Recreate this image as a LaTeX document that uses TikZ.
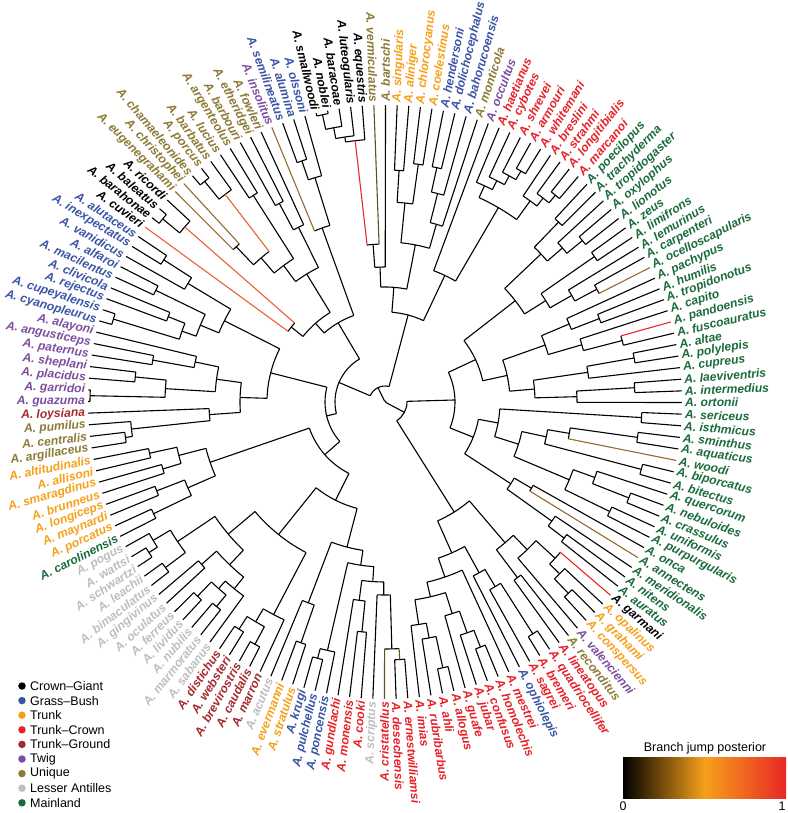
\documentclass[tikz,border=0pt]{standalone}
\usepackage{fontspec}
\setmainfont{Liberation Sans}
\usetikzlibrary{positioning}
\definecolor{crowngiant}{RGB}{0,0,0}
\definecolor{grassbush}{RGB}{59,85,165}
\definecolor{trunk}{RGB}{246,160,26}
\definecolor{trunkcrown}{RGB}{230,34,41}
\definecolor{trunkground}{RGB}{163,42,46}
\definecolor{twig}{RGB}{125,78,159}
\definecolor{unique}{RGB}{140,122,55}
\definecolor{lesserant}{RGB}{190,190,190}
\definecolor{mainland}{RGB}{27,107,58}
\definecolor{jumphi}{RGB}{232,40,38}
\definecolor{jumpmid}{RGB}{236,95,50}
\definecolor{jumplo}{RGB}{150,105,50}
\definecolor{jumpdim}{RGB}{100,80,40}
\tikzset{
  branch/.style={line width=1.1pt},
  taxon/.style={font=\fontsize{12.1}{13}\selectfont\bfseries\itshape, inner sep=0pt},
  legdot/.style={circle, inner sep=0pt, minimum size=7.5pt},
  legtext/.style={font=\fontsize{12.5}{14}\selectfont, anchor=west, inner sep=0pt}
}
\def\tiprad{297}
\def\labrad{300}
% tip: [stem colour] index, name, label colour
\newcommand{\tip}[4][black]{%
  \pgfmathsetmacro\tipang{(#2-1)*2.25-0.1}%
  \expandafter\xdef\csname ang@#3\endcsname{\tipang}%
  \expandafter\xdef\csname col@#3\endcsname{#1}%
  \coordinate (#3) at (\tipang:\tiprad);
  \pgfmathtruncatemacro\isleft{(\tipang>90 && \tipang<270) ? 1 : 0}%
  \ifnum\isleft=1
    \node[taxon, text=#4, rotate=\tipang-180, anchor=east] (lab-#3) at (\tipang:\labrad) {A. #3};
  \else
    \node[taxon, text=#4, rotate=\tipang, anchor=west] (lab-#3) at (\tipang:\labrad) {A. #3};
  \fi
}
% clade: [stem colour] name, child, child, radius
\newcommand{\clade}[5][black]{%
  \pgfmathsetmacro\angA{\csname ang@#3\endcsname}%
  \pgfmathsetmacro\angB{\csname ang@#4\endcsname}%
  \pgfmathsetmacro\angM{(\angA+\angB)/2}%
  \expandafter\xdef\csname ang@#2\endcsname{\angM}%
  \expandafter\xdef\csname col@#2\endcsname{#1}%
  \edef\colA{\csname col@#3\endcsname}\edef\colB{\csname col@#4\endcsname}%
  \coordinate (#2) at (\angM:#5);
  \draw[branch] (\angA:#5) arc[start angle=\angA, end angle=\angB, radius=#5];
  \draw[branch, draw=\colA] (\angA:#5) -- (#3);
  \draw[branch, draw=\colB] (\angB:#5) -- (#4);
}
\begin{document}
\begin{tikzpicture}[x=1pt, y=1pt]
  \useasboundingbox (-385,-411) rectangle (402,402);
  % tips, anticlockwise from A. ortonii
  \tip{1}{ortonii}{mainland}
  \tip{2}{intermedius}{mainland}
  \tip{3}{laeviventris}{mainland}
  \tip{4}{cupreus}{mainland}
  \tip{5}{polylepis}{mainland}
  \tip{6}{altae}{mainland}
  \tip{7}{fuscoauratus}{mainland}
  \tip[jumphi]{8}{pandoensis}{mainland}
  \tip{9}{capito}{mainland}
  \tip{10}{tropidonotus}{mainland}
  \tip{11}{humilis}{mainland}
  \tip{12}{pachypus}{mainland}
  \tip[jumplo]{13}{ocelloscapularis}{mainland}
  \tip{14}{carpenteri}{mainland}
  \tip{15}{lemurinus}{mainland}
  \tip{16}{limifrons}{mainland}
  \tip{17}{zeus}{mainland}
  \tip{18}{lionotus}{mainland}
  \tip{19}{oxylophus}{mainland}
  \tip{20}{tropidogaster}{mainland}
  \tip{21}{trachyderma}{mainland}
  \tip{22}{poecilopus}{mainland}
  \tip{23}{marcanoi}{trunkcrown}
  \tip{24}{longitibialis}{trunkcrown}
  \tip{25}{strahmi}{trunkcrown}
  \tip{26}{breslini}{trunkcrown}
  \tip{27}{whitemani}{trunkcrown}
  \tip{28}{armouri}{trunkcrown}
  \tip{29}{shrevei}{trunkcrown}
  \tip{30}{cybotes}{trunkcrown}
  \tip{31}{haetianus}{trunkcrown}
  \tip{32}{occultus}{twig}
  \tip{33}{monticola}{unique}
  \tip{34}{bahorucoensis}{grassbush}
  \tip{35}{dolichocephalus}{grassbush}
  \tip{36}{hendersoni}{grassbush}
  \tip{37}{coelestinus}{trunk}
  \tip{38}{chlorocyanus}{trunk}
  \tip{39}{aliniger}{trunk}
  \tip{40}{singularis}{trunk}
  \tip{41}{bartschi}{unique}
  \tip[jumpdim]{42}{vermiculatus}{unique}
  \tip{43}{equestris}{crowngiant}
  \tip{44}{luteogularis}{crowngiant}
  \tip{45}{baracoae}{crowngiant}
  \tip{46}{noblei}{crowngiant}
  \tip{47}{smallwoodi}{crowngiant}
  \tip{48}{olssoni}{grassbush}
  \tip{49}{alumina}{grassbush}
  \tip{50}{semilineatus}{grassbush}
  \tip[jumplo]{51}{insolitus}{twig}
  \tip{52}{fowleri}{unique}
  \tip{53}{etheridgei}{unique}
  \tip{54}{barbouri}{unique}
  \tip{55}{argenteolus}{unique}
  \tip{56}{lucius}{unique}
  \tip{57}{barbatus}{unique}
  \tip{58}{porcus}{unique}
  \tip{59}{chamaeleonides}{unique}
  \tip[jumplo]{60}{christophei}{unique}
  \tip[jumplo]{61}{eugenegrahami}{unique}
  \tip{62}{ricordi}{crowngiant}
  \tip{63}{baleatus}{crowngiant}
  \tip{64}{barahonae}{crowngiant}
  \tip[jumpmid]{65}{cuvieri}{crowngiant}
  \tip{66}{alutaceus}{grassbush}
  \tip{67}{inexpectatus}{grassbush}
  \tip{68}{vanidicus}{grassbush}
  \tip{69}{alfaroi}{grassbush}
  \tip{70}{macilentus}{grassbush}
  \tip{71}{clivicola}{grassbush}
  \tip{72}{rejectus}{grassbush}
  \tip{73}{cupeyalensis}{grassbush}
  \tip{74}{cyanopleurus}{grassbush}
  \tip{75}{alayoni}{twig}
  \tip{76}{angusticeps}{twig}
  \tip{77}{paternus}{twig}
  \tip{78}{sheplani}{twig}
  \tip{79}{placidus}{twig}
  \tip{80}{garridoi}{twig}
  \tip{81}{guazuma}{twig}
  \tip{82}{loysiana}{trunkground}
  \tip{83}{pumilus}{unique}
  \tip{84}{centralis}{unique}
  \tip{85}{argillaceus}{unique}
  \tip{86}{altitudinalis}{trunk}
  \tip{87}{allisoni}{trunk}
  \tip{88}{smaragdinus}{trunk}
  \tip{89}{brunneus}{trunk}
  \tip{90}{longiceps}{trunk}
  \tip{91}{maynardi}{trunk}
  \tip{92}{porcatus}{trunk}
  \tip{93}{carolinensis}{mainland}
  \tip{94}{pogus}{lesserant}
  \tip{95}{wattsi}{lesserant}
  \tip{96}{schwartzi}{lesserant}
  \tip{97}{leachii}{lesserant}
  \tip{98}{bimaculatus}{lesserant}
  \tip{99}{gingivinus}{lesserant}
  \tip{100}{oculatus}{lesserant}
  \tip{101}{ferreus}{lesserant}
  \tip{102}{lividus}{lesserant}
  \tip{103}{nubilis}{lesserant}
  \tip{104}{marmoratus}{lesserant}
  \tip{105}{sabanus}{lesserant}
  \tip{106}{distichus}{trunkground}
  \tip{107}{websteri}{trunkground}
  \tip{108}{brevirostris}{trunkground}
  \tip{109}{caudalis}{trunkground}
  \tip{110}{marron}{trunkground}
  \tip{111}{acutus}{lesserant}
  \tip{112}{evermanni}{trunk}
  \tip{113}{stratulus}{trunk}
  \tip{114}{krugi}{grassbush}
  \tip{115}{pulchellus}{grassbush}
  \tip{116}{poncensis}{grassbush}
  \tip{117}{gundlachi}{trunkcrown}
  \tip{118}{monensis}{trunkcrown}
  \tip{119}{cooki}{trunkcrown}
  \tip{120}{scriptus}{lesserant}
  \tip[jumpdim]{121}{cristatellus}{trunkcrown}
  \tip{122}{desechensis}{trunkcrown}
  \tip{123}{ernestwilliamsi}{trunkcrown}
  % Norops side, counted back from A. sericeus
  \tip{-36}{imias}{trunkcrown}
  \tip{-35}{rubribarbus}{trunkcrown}
  \tip{-34}{ahli}{trunkcrown}
  \tip{-33}{allogus}{trunkcrown}
  \tip{-32}{guafe}{trunkcrown}
  \tip{-31}{jubar}{trunkcrown}
  \tip{-30}{confusus}{trunkcrown}
  \tip{-29}{homolechis}{trunkcrown}
  \tip{-28}{mestrei}{trunkcrown}
  \tip{-27}{ophiolepis}{grassbush}
  \tip{-26}{sagrei}{trunkcrown}
  \tip{-25}{bremeri}{trunkcrown}
  \tip{-24}{quadriocellifer}{trunkcrown}
  \tip{-23}{lineatopus}{trunkcrown}
  \tip{-22}{reconditus}{unique}
  \tip{-21}{valencienni}{twig}
  \tip{-20}{conspersus}{trunk}
  \tip{-19}{grahami}{trunk}
  \tip{-18}{opalinus}{trunk}
  \tip[jumphi]{-17}{garmani}{crowngiant}
  \tip{-16}{auratus}{mainland}
  \tip{-15}{nitens}{mainland}
  \tip{-14}{meridionalis}{mainland}
  \tip[jumplo]{-13}{annectens}{mainland}
  \tip{-12}{onca}{mainland}
  \tip{-11}{purpurgularis}{mainland}
  \tip{-10}{uniformis}{mainland}
  \tip{-9}{crassulus}{mainland}
  \tip{-8}{nebuloides}{mainland}
  \tip{-7}{quercorum}{mainland}
  \tip{-6}{bitectus}{mainland}
  \tip{-5}{biporcatus}{mainland}
  \tip[jumplo]{-4}{woodi}{mainland}
  \tip{-3}{aquaticus}{mainland}
  \tip{-2}{sminthus}{mainland}
  \tip{-1}{isthmicus}{mainland}
  \tip{0}{sericeus}{mainland}
  % mainland, upper right
  \clade{nA1}{intermedius}{laeviventris}{250}
  \clade{nA2}{ortonii}{nA1}{192}
  \clade{nA3}{polylepis}{altae}{253}
  \clade{nA4}{cupreus}{nA3}{205}
  \clade{nA5}{nA2}{nA4}{150}
  \clade{nA6}{fuscoauratus}{pandoensis}{245}
  \clade{nA7}{capito}{nA6}{205}
  \clade{nA8}{tropidonotus}{humilis}{230}
  \clade{nA9}{pachypus}{nA8}{200}
  \clade{nA10}{nA7}{nA9}{170}
  \clade{nA11}{nA5}{nA10}{125}
  \clade{nA12}{ocelloscapularis}{carpenteri}{240}
  \clade{nA13}{lemurinus}{nA12}{215}
  \clade{nA14}{limifrons}{zeus}{255}
  \clade{nA15}{nA13}{nA14}{190}
  \clade{nA16}{lionotus}{oxylophus}{255}
  \clade{nA17}{tropidogaster}{nA16}{235}
  \clade{nA18}{trachyderma}{poecilopus}{250}
  \clade{nA19}{nA17}{nA18}{215}
  \clade{nA20}{nA15}{nA19}{165}
  \clade{nA21}{nA11}{nA20}{100}
  % mainland, lower right
  \clade{nB1}{auratus}{nitens}{225}
  \clade{nB2}{meridionalis}{nB1}{205}
  \clade{nB3}{annectens}{onca}{170}
  \clade{nB4}{nB2}{nB3}{150}
  \clade{nB5}{uniformis}{purpurgularis}{250}
  \clade{nB6}{crassulus}{nebuloides}{262}
  \clade{nB7}{quercorum}{nB6}{223}
  \clade{nB8}{nB5}{nB7}{200}
  \clade{nB9}{bitectus}{biporcatus}{265}
  \clade{nB10}{sminthus}{aquaticus}{255}
  \clade{nB11}{woodi}{nB10}{187}
  \clade{nB12}{nB9}{nB11}{165}
  \clade{nB13}{nB8}{nB12}{140}
  \clade{nB14}{sericeus}{isthmicus}{257}
  \clade{nB15}{nB13}{nB14}{115}
  \clade{nB16}{nB4}{nB15}{95}
  \clade{norM}{nB16}{nA21}{70}
  % Jamaica
  \clade{jam1}{conspersus}{grahami}{265}
  \clade{jam2}{opalinus}{jam1}{245}
  \clade{jam3}{garmani}{jam2}{231}
  \clade{jam4}{valencienni}{jam3}{205}
  \clade{jam5}{lineatopus}{reconditus}{220}
  \clade{jam6}{jam5}{jam4}{185}
  % sagrei series
  \clade{sg1}{ahli}{allogus}{272}
  \clade{sg2}{rubribarbus}{sg1}{240}
  \clade{sg3}{imias}{sg2}{225}
  \clade{sg4}{confusus}{homolechis}{263}
  \clade{sg5}{jubar}{sg4}{245}
  \clade{sg6}{guafe}{sg5}{222}
  \clade{sg7}{sg3}{sg6}{200}
  \clade{sg8}{sg7}{mestrei}{185}
  \clade{sg9}{bremeri}{quadriocellifer}{275}
  \clade{sg10}{sagrei}{sg9}{215}
  \clade{sg11}{ophiolepis}{sg10}{195}
  \clade{sg12}{sg8}{sg11}{165}
  \clade{nc1}{sg12}{jam6}{130}
  \clade{nor}{nc1}{norM}{22}
  % Hispaniola, cybotes and allies
  \clade{cy1}{marcanoi}{longitibialis}{268}
  \clade{cy2}{strahmi}{cy1}{258}
  \clade{cy3}{breslini}{cy2}{248}
  \clade{cy4}{whitemani}{armouri}{268}
  \clade{cy5}{shrevei}{cy4}{258}
  \clade{cy6}{cybotes}{cy5}{248}
  \clade{cy7}{haetianus}{cy6}{238}
  \clade{cy8}{cy3}{cy7}{225}
  \clade{cy9}{cy8}{occultus}{140}
  % grass-bush and chlorocyanus series
  \clade{gb1}{hendersoni}{dolichocephalus}{240}
  \clade{gb2}{bahorucoensis}{gb1}{215}
  \clade{gb3}{monticola}{gb2}{185}
  \clade{cs1}{singularis}{aliniger}{232}
  \clade{cs2}{chlorocyanus}{coelestinus}{240}
  \clade{cs3}{cs1}{cs2}{200}
  \clade{cs4}{gb3}{cs3}{160}
  % Cuban giants
  \clade{gi1}{smallwoodi}{noblei}{294}
  \clade{gi2}{baracoae}{gi1}{279}
  \clade{gi3}{luteogularis}{gi2}{268}
  \clade[jumphi]{gi4}{equestris}{gi3}{263}
  \clade{gi5}{vermiculatus}{gi4}{158}
  \clade{gi6}{bartschi}{gi5}{135}
  % Hispaniolan grass, chamaeleolis and giants
  \clade{gr1}{alumina}{semilineatus}{255}
  \clade{gr2}{olssoni}{gr1}{235}
  \clade{gr3}{insolitus}{gr2}{185}
  \clade{ch1}{etheridgei}{barbouri}{225}
  \clade{ch2}{fowleri}{ch1}{195}
  \clade{ch3}{argenteolus}{lucius}{245}
  \clade{ch4}{porcus}{chamaeleonides}{285}
  \clade[jumpmid]{ch5}{barbatus}{ch4}{262}
  \clade{ch6}{christophei}{eugenegrahami}{215}
  \clade{ch7}{ch5}{ch6}{190}
  \clade{ch8}{ch3}{ch7}{170}
  \clade{ch9}{ch2}{ch8}{150}
  \clade{hg1}{baleatus}{barahonae}{288}
  \clade[jumpmid]{hg2}{ricordi}{hg1}{266}
  \clade{hg3}{hg2}{cuvieri}{120}
  \clade{ee1}{ch9}{hg3}{105}
  \clade{ee2}{gr3}{ee1}{92}
  % Cuban grass-bush, twig, pumilus group
  \clade{cg1}{alutaceus}{inexpectatus}{263}
  \clade{cg2}{vanidicus}{cg1}{230}
  \clade{cg3}{alfaroi}{macilentus}{255}
  \clade{cg4}{clivicola}{rejectus}{233}
  \clade{cg5}{cupeyalensis}{cyanopleurus}{284}
  \clade{cg6}{cg4}{cg5}{215}
  \clade{cg7}{cg3}{cg6}{200}
  \clade{cg8}{cg2}{cg7}{180}
  \clade{tw1}{angusticeps}{paternus}{236}
  \clade{tw2}{alayoni}{tw1}{194}
  \clade{tw3}{sheplani}{placidus}{251}
  \clade{tw4}{garridoi}{guazuma}{295}
  \clade{tw5}{tw3}{tw4}{220}
  \clade{tw6}{tw2}{tw5}{170}
  \clade{pu1}{centralis}{argillaceus}{262}
  \clade{pu2}{pumilus}{pu1}{255}
  \clade{pu3}{loysiana}{pu2}{176}
  \clade{ff1}{tw6}{pu3}{145}
  \clade{ff2}{cg8}{ff1}{118}
  % carolinensis series
  \clade{ca1}{altitudinalis}{allisoni}{241}
  \clade{ca2}{smaragdinus}{brunneus}{232}
  \clade{ca3}{longiceps}{maynardi}{245}
  \clade{ca4}{porcatus}{carolinensis}{257}
  \clade{ca5}{ca1}{ca2}{213}
  \clade{ca6}{ca3}{ca4}{215}
  \clade{ca7}{ca5}{ca6}{185}
  % Lesser Antilles and distichus group
  \clade{la1}{wattsi}{schwartzi}{280}
  \clade{la2}{pogus}{la1}{270}
  \clade{la3}{leachii}{bimaculatus}{275}
  \clade{la4}{la2}{la3}{250}
  \clade{la5}{gingivinus}{oculatus}{245}
  \clade{la6}{ferreus}{lividus}{270}
  \clade{la7}{nubilis}{marmoratus}{265}
  \clade{la8}{la6}{la7}{250}
  \clade{la9}{la8}{sabanus}{240}
  \clade{la10}{la5}{la9}{225}
  \clade{la11}{la4}{la10}{205}
  \clade{di1}{distichus}{websteri}{270}
  \clade{di2}{brevirostris}{caudalis}{275}
  \clade{di3}{di1}{di2}{255}
  \clade{di4}{di3}{marron}{240}
  \clade{di5}{la11}{di4}{170}
  % Puerto Rico bank
  \clade{pr1}{evermanni}{stratulus}{255}
  \clade{pr2}{acutus}{pr1}{215}
  \clade{pr3}{pulchellus}{krugi}{265}
  \clade{pr4}{poncensis}{pr3}{255}
  \clade{pr5}{monensis}{cooki}{231}
  \clade{pr6}{gundlachi}{pr5}{200}
  \clade[jumpdim]{pr7}{desechensis}{ernestwilliamsi}{258}
  \clade{pr8}{cristatellus}{pr7}{247}
  \clade{pr9}{scriptus}{pr8}{193}
  \clade{pr10}{pr6}{pr9}{180}
  \clade{pr11}{pr4}{pr10}{165}
  \clade{pr12}{pr2}{pr11}{150}
  % deep nodes
  \clade{dd1}{di5}{pr12}{110}
  \clade{dd2}{ca7}{dd1}{80}
  \clade{dd3}{ff2}{dd2}{60}
  \clade{dd4}{ee2}{dd3}{50}
  \clade{dd5}{cs4}{gi6}{115}
  \clade{dd7}{cy9}{dd5}{90}
  \clade{rest}{dd7}{dd4}{16}
  \clade{root}{nor}{rest}{1}
  % legend
  \foreach \cls/\txt [count=\k from 0] in {crowngiant/Crown{\textendash}Giant, grassbush/Grass{\textendash}Bush, trunk/Trunk, trunkcrown/Trunk{\textendash}Crown, trunkground/Trunk{\textendash}Ground, twig/Twig, unique/Unique, lesserant/Lesser Antilles, mainland/Mainland}{
    \node[legdot, fill=\cls] (dot-\k) at (-363,-284-14.6*\k) {};
    \node[legtext, right=4pt of dot-\k] (leg-\k) {\txt};
  }
  % colour bar
  \shade[left color=black, right color=jumphi, middle color=trunk] (238,-355) rectangle (401,-396);
  \node[font=\fontsize{12.5}{14}\selectfont, anchor=south] (bartitle) at (320,-356) {Branch jump posterior};
  \node[font=\fontsize{12.5}{14}\selectfont] (bar0) at (238,-404) {0};
  \node[font=\fontsize{12.5}{14}\selectfont] (bar1) at (397,-404) {1};
\end{tikzpicture}
\end{document}
